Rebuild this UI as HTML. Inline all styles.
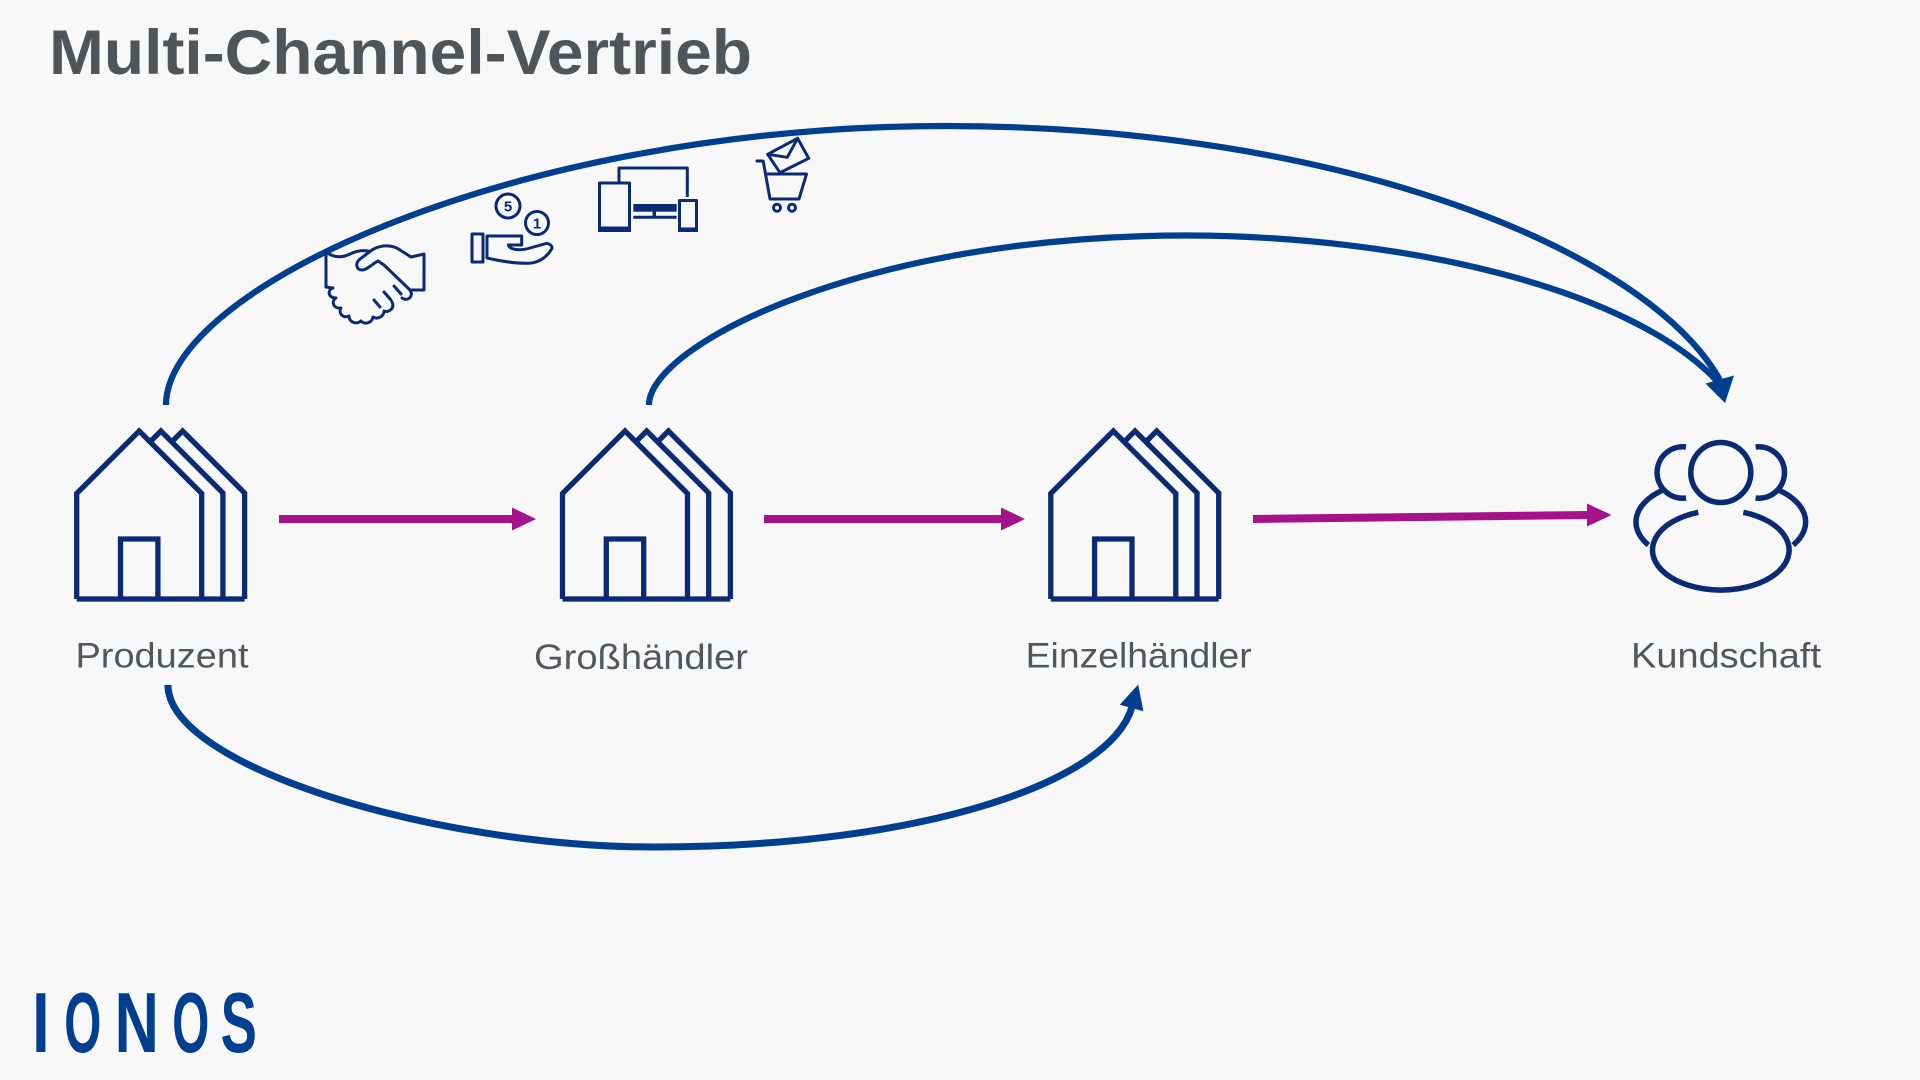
<!DOCTYPE html>
<html>
<head>
<meta charset="utf-8">
<style>
  html,body{margin:0;padding:0;background:#f8f8f8;}
  body{width:1920px;height:1080px;overflow:hidden;}
  svg{display:block;}
</style>
</head>
<body>
<svg width="1920" height="1080" viewBox="0 0 1920 1080" xmlns="http://www.w3.org/2000/svg">
  <rect x="0" y="0" width="1920" height="1080" fill="#f8f8f8"/>

  <!-- Title -->
  <text x="49" y="74" font-family="Liberation Sans, Arial, sans-serif" font-weight="bold" font-size="63" fill="#4f5559" textLength="703" lengthAdjust="spacingAndGlyphs">Multi-Channel-Vertrieb</text>

  <!-- Blue arcs -->
  <g fill="none" stroke="#003f8f" stroke-linecap="butt">
    <path d="M166 405 C166 288 517 126 946 126 C1340 126 1646.5 249.5 1720 380" stroke-width="6.2"/>
    <path d="M649 405 C649 345.5 863 235.5 1185 235.5 C1400 235.5 1629.6 287 1718 382" stroke-width="6.2"/>
    <path d="M168 685 C168 766 435 847 654 847 C917 847 1109.6 783.8 1132 707" stroke-width="7"/>
  </g>
  <polygon points="1705.5,383.5 1734,375.5 1725,403" fill="#003f8f"/>
  <polygon points="1119.8,704.8 1143.4,711.2 1138.2,684.5" fill="#003f8f"/>

  <!-- Houses -->
  <defs>
    <g id="house" fill="none" stroke="#0a2a74" stroke-width="5.3" stroke-linejoin="miter" stroke-miterlimit="10">
      <path d="M-62.5 599 V493.5 L0 431 L62.5 493.5 V599"/>
      <path d="M10.85 441.85 L21.7 431 L83.7 493 V599"/>
      <path d="M32.55 441.85 L43.4 431 L105.4 493 V599"/>
      <path d="M-62.5 599 H105.4"/>
      <path d="M-18.7 599 V539 H18.7 V599"/>
    </g>
  </defs>
  <use href="#house" transform="translate(139.2,0)"/>
  <use href="#house" transform="translate(625,0)"/>
  <use href="#house" transform="translate(1113.3,0)"/>

  <!-- Magenta arrows -->
  <g fill="#a5128a">
    <rect x="279" y="515" width="235" height="8"/>
    <polygon points="512,507.5 536,519 512,530.5"/>
    <rect x="764" y="515" width="239" height="8"/>
    <polygon points="1001,507.5 1025,519 1001,530.5"/>
    <polygon points="1253,515 1589,511 1589,519 1253,523"/>
    <polygon points="1587,503.5 1611.5,515 1587,526.5"/>
  </g>

  <!-- Customers icon -->
  <g fill="none" stroke="#0a2a74" stroke-width="5.5">
    <circle cx="1720.8" cy="472.5" r="30"/>
    <path d="M1698.3 512.3 A68.3 40 0 1 0 1743.3 512.3"/>
    <path d="M1686 447 A25.7 25.7 0 1 0 1686 498"/>
    <path d="M1755.6 447 A25.7 25.7 0 1 1 1755.6 498"/>
    <path d="M1662 490.5 A68 40 0 0 0 1648.4 545"/>
    <path d="M1779.6 490.5 A68 40 0 0 1 1793.2 545"/>
  </g>

  <!-- Labels -->
  <g font-family="Liberation Sans, Arial, sans-serif" font-size="35" fill="#51575b" text-anchor="middle">
    <text x="162" y="667.5" textLength="173" lengthAdjust="spacingAndGlyphs">Produzent</text>
    <text x="641" y="669" textLength="214" lengthAdjust="spacingAndGlyphs">Großhändler</text>
    <text x="1138.7" y="667.3" textLength="226" lengthAdjust="spacingAndGlyphs">Einzelhändler</text>
    <text x="1726" y="667.3" textLength="190" lengthAdjust="spacingAndGlyphs">Kundschaft</text>
  </g>

  <!-- Small icons -->
  <g fill="none" stroke="#0a2a74" stroke-width="3" stroke-linejoin="round" stroke-linecap="round">
    <!-- handshake -->
    <path d="M326 252 V287"/>
    <path d="M326 252 C334 258 342 258 350 254 C356 251 362 250 368 251"/>
    <path d="M384 265 L378 261 C372 264 367 270 362 270 C356 270 355 263 360 259 L372 250 C380 245 392 244 400 250 L411 257 L424 254 V290 H412"/>
    <path d="M384 265 L410 290 C414 296 408 302 402 298"/>
    <path d="M326 287 L333 288 c-6 2 -5 10 3 10 c-5 3 -3 11 5 10 c-3 5 2 11 8 8 c0 6 7 9 12 5 c4 4 11 2 12 -4 c5 3 11 -1 11 -6 c5 2 11 -3 8 -9"/>
    <path d="M374 300 L380 307"/>
    <path d="M384 292 L391 300"/>
    <path d="M394 286 L401 294"/>
    <!-- coins hand -->
    <rect x="472" y="234" width="11" height="28"/>
    <path d="M487 236 H521.7 V245 H508.3 C510 250 520 251 530 248 L546.7 243.3 C550 244 553 246 551.7 249 C546 258 538 263 528 263.3 C515 263.5 500 261 487 258 Z"/>
    <circle cx="508" cy="206" r="12"/>
    <circle cx="537" cy="223" r="11.5"/>
    <!-- devices -->
    <rect x="599.5" y="183" width="30" height="47.5"/>
    <rect x="679.5" y="200.5" width="17" height="30"/>
    <path d="M619 182 V168 H687.3 V197" stroke-linecap="butt"/>
    <path d="M633.3 217.3 H676.7" stroke-linecap="butt"/>
    <!-- cart -->
    <path d="M757 161 H763.2 L770 199 H799 L806.5 174 H765.8"/>
    <circle cx="777" cy="207.7" r="3.5"/>
    <circle cx="792" cy="207.7" r="3.5"/>
    <path d="M767.7 154.3 L797.6 138.3 L808.7 158.3 L780 172.7 Z"/>
    <path d="M767.7 154.3 L787.3 157.3 L797.6 138.3"/>
  </g>
  <g fill="#0a2a74">
    <rect x="598" y="226.5" width="33" height="5.5"/>
    <rect x="678" y="227.5" width="20" height="4.5"/>
    <rect x="633.3" y="204" width="43.4" height="7.7"/>
    <rect x="652.5" y="211" width="3.5" height="6"/>
  </g>
  <g font-family="Liberation Sans, Arial, sans-serif" font-weight="bold" font-size="15" fill="#0a2a74" text-anchor="middle">
    <text x="508" y="211.5">5</text>
    <text x="537" y="228.5">1</text>
  </g>

  <!-- IONOS logo -->
  <g font-family="Liberation Sans, Arial, sans-serif" font-weight="bold" font-size="85" fill="#003f8f" text-anchor="middle">
    <text transform="translate(40.9,1052) scale(0.74,1)">I</text>
    <text transform="translate(82.7,1052) scale(0.56,1)">O</text>
    <text transform="translate(136.7,1052) scale(0.72,1)">N</text>
    <text transform="translate(190.7,1052) scale(0.56,1)">O</text>
    <text transform="translate(238.8,1052) scale(0.64,1)">S</text>
  </g>
</svg>
</body>
</html>
